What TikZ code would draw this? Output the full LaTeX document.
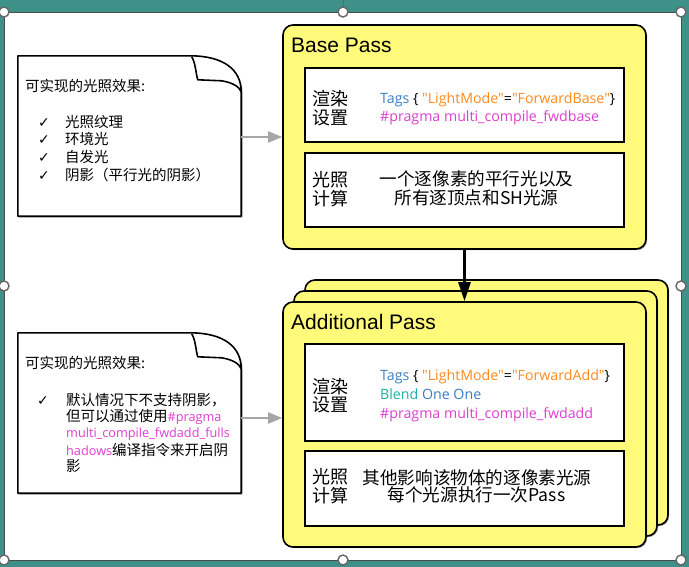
\documentclass[tikz,border=0pt]{standalone}
\usepackage{fontspec}
\setmainfont{Liberation Sans}
\newfontfamily\cjk{Noto Sans CJK SC}
\newfontfamily\codef{Open Sans}
\newfontfamily\symf{DejaVu Sans}
\usetikzlibrary{shadows,arrows.meta,calc}
\definecolor{tealA}{HTML}{52B9AE}
\definecolor{tealB}{HTML}{3E9189}
\definecolor{passyellow}{HTML}{FFFA7A}
\definecolor{tagblue}{HTML}{3A7FC4}
\definecolor{codeorange}{HTML}{FF8A1E}
\definecolor{codemag}{HTML}{DD3FD0}
\definecolor{codeteal}{HTML}{1FB0A6}
\definecolor{arrowgray}{HTML}{A6A6A6}
\newcommand{\notepath}[1]{%
  \draw[noteline, fill=white, drop shadow={shadow xshift=1.5pt, shadow yshift=-1.5pt, fill=black, opacity=0.3}]
    (#1.south west) -- (#1.north west) -- ($(#1.north west)+(172,0)$)
    .. controls ($(#1.north west)+(206,0)$) and ($(#1.north east)+(0,14)$) .. ($(#1.north east)+(0,36)$)
    -- (#1.south east) -- cycle;
  \draw[noteline]
    ($(#1.north west)+(174,1)$) .. controls ($(#1.north west)+(178,8)$) and ($(#1.north west)+(178,18)$) .. ($(#1.north west)+(180,24)$)
    -- ($(#1.north west)+(204,25)$) .. controls ($(#1.north east)+(-8,27)$) and ($(#1.north east)+(-2,31)$) .. ($(#1.north east)+(0,36)$);
}
\tikzset{
  noteline/.style={draw=black, line width=1.6pt, line join=round},
  notebox/.style={minimum width=223pt, minimum height=160pt, inner sep=0pt},
  passbox/.style={draw=black, line width=1.6pt, fill=passyellow, rounded corners=10pt,
    minimum width=363pt, minimum height=245pt, inner sep=0pt,
    drop shadow={shadow xshift=1.2pt, shadow yshift=-1.2pt, fill=black, opacity=0.35}},
  innerbox/.style={draw=black, line width=1.6pt, fill=white, minimum width=319pt, inner sep=0pt},
  handle/.style={circle, draw=black!60, fill=white, line width=1.4pt, minimum size=10pt, inner sep=0pt},
  grayarrow/.style={draw=arrowgray, line width=2pt, -{Triangle[length=14pt,width=11pt]}},
  blackarrow/.style={draw=black, line width=2.6pt, -{Triangle[length=19pt,width=12pt]}},
  title/.style={anchor=base west, inner sep=0pt, font=\fontsize{21}{24}\selectfont},
  lbl/.style={anchor=base west, inner sep=0pt, font=\cjk\fontsize{18}{20}\selectfont},
  desc/.style={anchor=base, inner sep=0pt, font=\cjk\fontsize{17.6}{20}\selectfont},
  code/.style={anchor=base west, inner sep=0pt, font=\codef\fontsize{14.2}{16}\selectfont},
  ntext/.style={anchor=base west, inner sep=0pt, font=\cjk\fontsize{14.5}{17}\selectfont},
  chk/.style={anchor=base west, inner sep=0pt, font=\symf\bfseries\fontsize{14}{15}\selectfont},
}
\newcommand{\ncode}{\codef\fontsize{12.7}{14}\selectfont\color{codemag}}
\begin{document}
\begin{tikzpicture}[x=1pt,y=-1pt]
\useasboundingbox (0,0) rectangle (689,566);
% frame
\fill[left color=tealB, middle color=tealA, right color=tealB] (0,0) rectangle (689,566);
\draw[black!70, line width=0.8pt, fill=white] (4,12) rectangle (681,560);
\node[handle] (h1) at (4,12) {};
\node[handle] (h2) at (343,12) {};
\node[handle] (h3) at (681,12) {};
\node[handle] (h4) at (4,286) {};
\node[handle] (h5) at (681,286) {};
\node[handle] (h6) at (4,560) {};
\node[handle] (h7) at (343,560) {};
\node[handle] (h8) at (681,560) {};
\coordinate (rot) at (343,0);
\draw[black!60, line width=1pt] (rot) -- (h2.north);

% notes
\node[notebox] (note1) at (129.5,136) {};
\notepath{note1}
\node[notebox] (note2) at (129.5,413) {};
\notepath{note2}

% base pass
\node[passbox, minimum height=224pt] (base) at (464.5,137) {};
\node[innerbox, minimum height=74pt] (in1) at (464.5,105) {};
\node[innerbox, minimum height=74pt] (in2) at (464.5,190) {};

% additional pass stack
\node[passbox] (addb) at (486.5,402.5) {};
\node[passbox] (addm) at (475.5,413.5) {};
\node[passbox] (addf) at (464.5,424.5) {};
\node[innerbox, minimum height=97pt] (in3) at (464.5,392.5) {};
\node[innerbox, minimum height=75pt] (in4) at (464.5,488.5) {};

% titles
\node[title] (t1) at (291,52) {Base Pass};
\node[title] (t2) at (291,329) {Additional Pass};

% box 1
\node[lbl] (l1a) at (312,105) {渲染};
\node[lbl] (l1b) at (312,124) {设置};
\node[code] (c1a) at (380,103) {\textcolor{tagblue}{Tags} \{ \textcolor{codeorange}{"LightMode"}=\textcolor{codeorange}{"ForwardBase"}\}};
\node[code] (c1b) at (380,121.5) {\textcolor{codemag}{\#pragma multi\_compile\_fwdbase}};
% box 2
\node[lbl] (l2a) at (312,186) {光照};
\node[lbl] (l2b) at (312,205) {计算};
\node[desc] (d2a) at (476.5,185.5) {一个逐像素的平行光以及};
\node[desc] (d2b) at (476.5,204.5) {所有逐顶点和SH光源};
% box 3
\node[lbl] (l3a) at (312,393) {渲染};
\node[lbl] (l3b) at (312,411.5) {设置};
\node[code] (c3a) at (380,380) {\textcolor{tagblue}{Tags} \{ \textcolor{codeorange}{"LightMode"}=\textcolor{codeorange}{"ForwardAdd"}\}};
\node[code] (c3b) at (380,399) {\textcolor{codeteal}{Blend} \textcolor{tagblue}{One One}};
\node[code] (c3c) at (380,418) {\textcolor{codemag}{\#pragma multi\_compile\_fwdadd}};
% box 4
\node[lbl] (l4a) at (312,483.5) {光照};
\node[lbl] (l4b) at (312,502) {计算};
\node[desc] (d4a) at (477,484) {其他影响该物体的逐像素光源};
\node[desc] (d4b) at (476.5,501.5) {每个光源执行一次Pass};

% note 1 text
\node[ntext] (n1h) at (25,91.5) {可实现的光照效果:};
\node[chk] (k1) at (38,127.5) {✓};
\node[ntext] (n1a) at (65,127.5) {光照纹理};
\node[chk] (k2) at (38,144.5) {✓};
\node[ntext] (n1b) at (65,144.5) {环境光};
\node[chk] (k3) at (38,162) {✓};
\node[ntext] (n1c) at (65,162) {自发光};
\node[chk] (k4) at (38,180.5) {✓};
\node[ntext] (n1d) at (65,180.5) {阴影（平行光的阴影）};

% note 2 text
\node[ntext] (n2h) at (25,368.5) {可实现的光照效果:};
\node[chk] (k5) at (37,405) {✓};
\node[ntext] (n2a) at (66,405) {默认情况下不支持阴影，};
\node[ntext] (n2b) at (66,421) {但可以通过使用{\ncode\#pragma}};
\node[ntext] (n2c) at (66,437.5) {{\ncode multi\_compile\_fwdadd\_fulls}};
\node[ntext] (n2d) at (66,455) {{\ncode hadows}编译指令来开启阴};
\node[ntext] (n2e) at (66,471.5) {影};

% connectors
\coordinate (a1s) at ([yshift=-1pt]note1.east);
\draw[grayarrow] (a1s) -- (a1s -| base.west);
\coordinate (a2s) at ([yshift=-5pt]note2.east);
\draw[grayarrow] (a2s) -- (a2s -| addf.west);
\draw[blackarrow] (base.south) -- (addf.north);
\end{tikzpicture}
\end{document}
